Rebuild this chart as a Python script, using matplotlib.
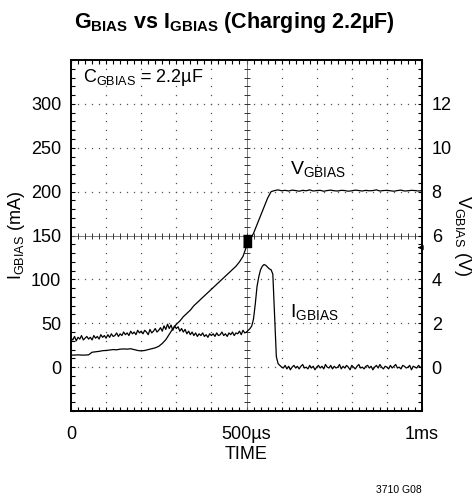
import matplotlib
matplotlib.use("Agg")
import matplotlib.pyplot as plt
import numpy as np

plt.rcParams['font.family'] = ['Liberation Sans', 'DejaVu Sans']
plt.rcParams['mathtext.fontset'] = 'custom'
plt.rcParams['mathtext.rm'] = 'Liberation Sans'

# time axis in microseconds
t_i = np.arange(0, 1001, 5)
t_v = np.arange(0, 1001, 10)

# I_GBIAS (mA), every 5us
i_gbias = [
    33, 31, 35, 30, 34, 32, 36, 31, 33, 35,
    32, 34, 31, 36, 33, 35, 32, 37, 34, 36,
    33, 37, 34, 38, 35, 36, 39, 35, 38, 36,
    40, 37, 39, 36, 41, 38, 40, 37, 42, 39,
    41, 38, 42, 40, 37, 43, 39, 41, 44, 40,
    42, 45, 41, 47, 43, 49, 44, 48, 42, 47,
    44, 46, 41, 44, 40, 43, 38, 41, 37, 40,
    36, 39, 35, 38, 36, 39, 35, 37, 34, 38,
    36, 38, 35, 39, 36, 37, 40, 36, 38, 35,
    39, 37, 40, 36, 39, 38, 41, 37, 42, 39,
    40, 42, 44, 47, 55, 72, 92, 103, 111, 115,
    117, 116, 114, 112, 111, 106, 60, 12, 4, 2,
    0, -1, 2, -2, 1, -3, 0, 2, -1, 1,
    -2, 1, 3, -1, 0, -2, 2, -1, 1, -3,
    0, 2, -1, 1, -2, 3, 0, -1, 2, -2,
    1, -1, 0, 3, -2, 1, -1, 2, 0, -3,
    2, 0, -2, 1, 3, -1, 0, -2, 1, 2,
    -1, 1, -3, 0, 2, -1, 3, 0, -2, 1,
    0, -2, 2, -1, 1, 3, -1, 0, -2, 2,
    1, -1, 0, 2, -3, 1, 0, -1, 2, 0,
    -1,
]

# V_GBIAS (V), every 10us
v_gbias = [
    0.55, 0.55, 0.56, 0.55, 0.55, 0.56,
    0.68, 0.70, 0.72, 0.75, 0.76,
    0.78, 0.80, 0.79, 0.82, 0.83, 0.82, 0.84, 0.80, 0.76, 0.74,
    0.76, 0.80, 0.84, 0.88, 0.95, 1.08, 1.25, 1.50, 1.75, 1.95,
    2.10, 2.30, 2.45, 2.60, 2.80, 2.95, 3.10, 3.25, 3.40, 3.55,
    3.70, 3.85, 4.00, 4.15, 4.30, 4.45, 4.60, 4.80, 5.05, 5.50,
    5.80, 6.10, 6.50, 6.90, 7.30, 7.70, 8.00, 8.05, 8.08, 8.04,
    8.06, 8.03, 8.07, 8.05, 8.02, 8.06, 8.04, 8.08, 8.03, 8.05,
    8.06, 8.02, 8.05, 8.07, 8.04, 8.03, 8.06, 8.05, 8.02, 8.04,
    8.07, 8.05, 8.03, 8.06, 8.04, 8.05, 8.08, 8.03, 8.05, 8.06,
    8.04, 8.02, 8.05, 8.07, 8.03, 8.04, 8.06, 8.05, 8.03, 8.05,
]

x_ticks = [0, 500, 1000]
x_labels = ['0', '500µs', '1ms']
i_ticks = [0, 50, 100, 150, 200, 250, 300]
v_ticks = [0, 2, 4, 6, 8, 10, 12]

trig_t, trig_v = 500, 5.75

fig = plt.figure(figsize=(4.74, 4.97), dpi=100)
ax = fig.add_axes([0.1498, 0.1730, 0.7405, 0.7062])
ax2 = ax.twinx()

ax.set_xlim(0, 1000)
ax.set_ylim(-50, 350)
ax2.set_ylim(-2, 14)

# scope graticule: dotted lines, center crosshair with small ticks
xmin = np.arange(0, 1001, 20)
ymin = np.arange(-50, 351, 10)
for xv in range(100, 1000, 100):
    if xv == 500:
        continue
    ax.plot(np.full(len(ymin), xv), ymin, ls='none', marker='s', ms=0.9,
            color='#555555', mew=0)
for yv in range(0, 350, 50):
    if yv == 150:
        continue
    ax.plot(xmin, np.full(len(xmin), yv), ls='none', marker='s', ms=0.9,
            color='#555555', mew=0)
ax.axvline(500, color='#666666', lw=0.6)
ax.axhline(150, color='#666666', lw=0.6)
ax.plot(np.full(len(ymin), 500), ymin, ls='none', marker='_', ms=5,
        color='#333333', mew=0.7)
ax.plot(xmin, np.full(len(xmin), 150), ls='none', marker='|', ms=5,
        color='#333333', mew=0.7)

# traces
ax.plot(t_i, i_gbias, color='black', lw=0.9)
ax2.plot(t_v, v_gbias, color='black', lw=0.9)

# trigger marker and level arrow
ax2.plot([trig_t], [trig_v], ls='none', color='black',
         marker=[(-0.36, -0.5), (0.36, -0.5), (0.36, 0.5), (-0.36, 0.5)], ms=8)
ax2.annotate('', xy=(980, 5.45), xytext=(1000, 5.45),
             arrowprops=dict(arrowstyle='-|>', color='black', lw=0.9,
                             mutation_scale=7))

# ticks
ax.set_xticks(np.arange(0, 1001, 100))
ax.set_xticklabels([x_labels[x_ticks.index(v)] if v in x_ticks else ''
                    for v in range(0, 1001, 100)])
ax.set_xticks(xmin, minor=True)
ax.set_yticks(np.arange(-50, 351, 50))
ax.set_yticklabels([str(v) if v in i_ticks else '' for v in range(-50, 351, 50)])
ax.set_yticks(ymin, minor=True)
ax2.set_yticks(np.arange(-2, 15, 2))
ax2.set_yticklabels([str(v) if v in v_ticks else '' for v in range(-2, 15, 2)])
ax2.set_yticks(np.arange(-2, 14.01, 0.4), minor=True)

for a in (ax, ax2):
    a.tick_params(which='both', direction='in', length=3, width=0.8,
                  labelsize=13, top=True)
    a.tick_params(which='major', pad=7)
ax.tick_params(axis='x', pad=11)
for s in ax.spines.values():
    s.set_linewidth(1.2)
for s in ax2.spines.values():
    s.set_linewidth(1.2)

ax.set_xlabel('TIME', fontsize=13, labelpad=2)
ax.set_ylabel(r'$\mathregular{I_{GBIAS}}$ (mA)', fontsize=13)
ax.yaxis.set_label_coords(-0.125, 0.5)
ax2.set_ylabel(r'$\mathregular{V_{GBIAS}}$ (V)', fontsize=13, rotation=-90,
               va='center')
ax2.yaxis.set_label_coords(1.115, 0.5)

ax.text(34, 330, r'$\mathregular{C_{GBIAS}}$ = 2.2µF', fontsize=13,
        ha='left', va='center')
ax.text(625, 226, r'$\mathregular{V_{GBIAS}}$', fontsize=14, ha='left', va='center')
ax.text(625, 63, r'$\mathregular{I_{GBIAS}}$', fontsize=14, ha='left', va='center')

fig.text(234 / 474, 0.955, r'$\mathregular{G_{BIAS}}$ vs $\mathregular{I_{GBIAS}}$ (Charging 2.2µF)',
         fontsize=15.5, fontweight='bold', ha='center', va='center')
fig.text(422 / 474, 1 - 490 / 497, '3710 G08', fontsize=7.5, ha='right', va='center')

fig.savefig('out.png', dpi=100)
